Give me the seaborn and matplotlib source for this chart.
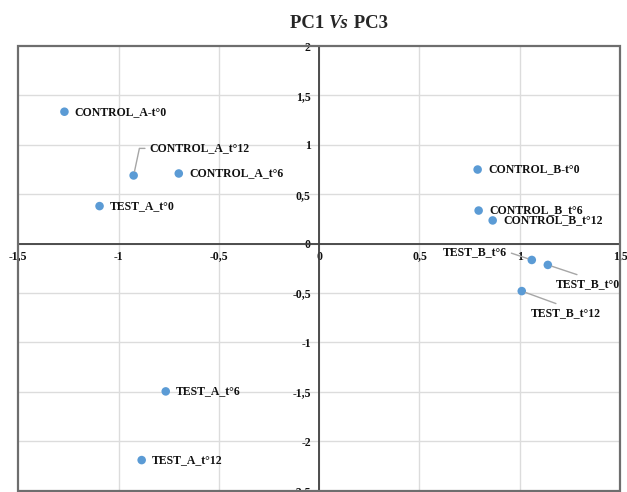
import matplotlib
matplotlib.use("Agg")
import matplotlib.pyplot as plt
from matplotlib.patches import Rectangle
from matplotlib.ticker import FixedLocator, FuncFormatter
import seaborn as sns
import pandas as pd

# PCA scores (PC1, PC3) per sample
samples = ["CONTROL_A-t°0", "CONTROL_A_t°12", "CONTROL_A_t°6", "TEST_A_t°0",
           "TEST_A_t°6", "TEST_A_t°12", "CONTROL_B-t°0", "CONTROL_B_t°6",
           "CONTROL_B_t°12", "TEST_B_t°6", "TEST_B_t°0", "TEST_B_t°12"]
pc1 = [-1.27, -0.925, -0.70, -1.095, -0.765, -0.885, 0.79, 0.795, 0.865, 1.06, 1.14, 1.01]
pc3 = [1.335, 0.69, 0.71, 0.38, -1.495, -2.19, 0.75, 0.335, 0.235, -0.165, -0.215, -0.48]

x_ticks = [-1.5, -1, -0.5, 0, 0.5, 1, 1.5]
y_ticks = [-2.5, -2, -1.5, -1, -0.5, 0, 0.5, 1, 1.5, 2]

df = pd.DataFrame({"sample": samples, "PC1": pc1, "PC3": pc3})

sns.set_style("white")
plt.rcParams["font.family"] = ["Liberation Serif", "DejaVu Serif"]

fig = plt.figure(figsize=(6.27, 4.92), dpi=100)
ax = fig.add_axes([0.0292, 0.0026, 0.9597, 0.9039])

sns.scatterplot(data=df, x="PC1", y="PC3", ax=ax, color="#5B9BD5",
                s=38, edgecolor="none", zorder=5)

ax.set_xlim(x_ticks[0], x_ticks[-1])
ax.set_ylim(y_ticks[0], y_ticks[-1])
ax.set_xlabel("")
ax.set_ylabel("")

# gridlines
for v in x_ticks[1:-1]:
    ax.axvline(v, color="#dcdcdc", lw=1.0, zorder=0)
for v in y_ticks[1:-1]:
    ax.axhline(v, color="#dcdcdc", lw=1.0, zorder=0)

# axes crossing at the origin
for side in ["top", "right"]:
    ax.spines[side].set_visible(False)
ax.spines["left"].set_position(("data", 0))
ax.spines["bottom"].set_position(("data", 0))
for side in ["left", "bottom"]:
    ax.spines[side].set_color("#404040")
    ax.spines[side].set_linewidth(1.3)
    ax.spines[side].set_zorder(2)

# outer frame
ax.add_patch(Rectangle((0, 0), 1, 1, transform=ax.transAxes, fill=False,
                       edgecolor="#6e6e6e", lw=1.6, zorder=3, clip_on=False))

fmt = FuncFormatter(lambda v, p: f"{v:g}".replace(".", ","))
ax.xaxis.set_major_locator(FixedLocator(x_ticks))
ax.yaxis.set_major_locator(FixedLocator(y_ticks))
ax.xaxis.set_major_formatter(fmt)
ax.yaxis.set_major_formatter(fmt)
ax.tick_params(axis="both", length=0, labelsize=8.5, colors="#111111")
ax.tick_params(axis="x", pad=5)
ax.tick_params(axis="y", pad=6)
for lab in ax.get_xticklabels() + ax.get_yticklabels():
    lab.set_fontweight("bold")

# point labels
lab_kw = dict(fontsize=8.5, fontweight="bold", color="#111111",
              textcoords="offset points", zorder=6)
line_kw = dict(arrowstyle="-", color="#a6a6a6", lw=1.0, shrinkA=1, shrinkB=3)
special = {
    "CONTROL_A_t°12": dict(xytext=(11.5, 19.5), ha="left", va="center",
                           arrowprops=dict(line_kw, relpos=(0, 0.5),
                                           connectionstyle="angle,angleA=0,angleB=78,rad=0")),
    "TEST_B_t°6": dict(xytext=(-18, 6), ha="right", va="center",
                       arrowprops=dict(line_kw, relpos=(1, 0.5))),
    "TEST_B_t°0": dict(xytext=(29, -14), ha="center", va="center",
                       arrowprops=dict(line_kw, relpos=(0.5, 1))),
    "TEST_B_t°12": dict(xytext=(32, -16), ha="center", va="center",
                        arrowprops=dict(line_kw, relpos=(0.5, 1))),
}
for name, x, y in zip(samples, pc1, pc3):
    opts = special.get(name, dict(xytext=(7.5, 0), ha="left", va="center"))
    ax.annotate(name, xy=(x, y), **opts, **lab_kw)

# title with italic "Vs"
t1 = fig.text(290 / 627, 1 - 24 / 492, "PC1 ", fontsize=13.5, fontweight="bold",
              ha="left", va="center")
t2 = ax.annotate("Vs", xy=(1, 0), xycoords=t1, fontsize=13.5, fontweight="bold",
                 fontstyle="italic", ha="left", va="bottom",
                 annotation_clip=False)
t3 = ax.annotate(" PC3", xy=(1, 0), xycoords=t2, fontsize=13.5, fontweight="bold",
                 ha="left", va="bottom", annotation_clip=False)

fig.savefig("out.png", dpi=100)
